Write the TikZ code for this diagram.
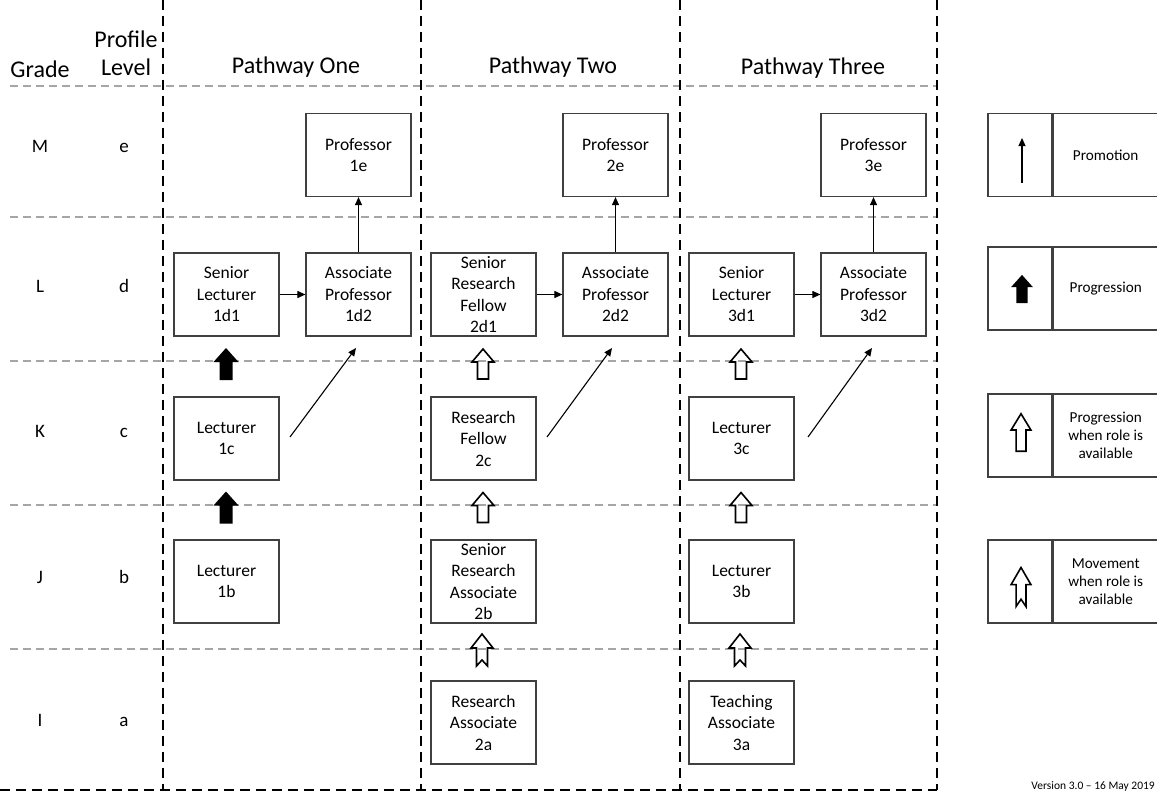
\documentclass[tikz,border=0pt]{standalone}
\usepackage{fontspec}
\setmainfont{Carlito}
\usetikzlibrary{arrows.meta}
\definecolor{boxline}{HTML}{404040}
\definecolor{gridgray}{HTML}{A6A6A6}
\tikzset{
  x=1pt, y=-1pt,
  rolebox/.style={draw=boxline, line width=1.2pt, minimum width=105pt, minimum height=83pt,
    text width=100pt, align=center, inner sep=0pt, font=\fontsize{17.5}{21.5}\selectfont},
  colsep/.style={line width=2.8pt, dash pattern=on 10pt off 6pt},
  rowsep/.style={gridgray, line width=1.4pt, dash pattern=on 8pt off 5pt},
  hdr/.style={font=\fontsize{24}{28}\selectfont, align=center, inner sep=0pt},
  rowlab/.style={font=\fontsize{19}{22}\selectfont, inner sep=0pt, anchor=base},
  promo/.style={line width=1.1pt, -{Triangle[length=8pt,width=7pt]}},
  legbox/.style={draw=boxline, line width=1.2pt, minimum height=83pt, inner sep=0pt},
  legtext/.style={font=\fontsize{15.2}{18}\selectfont, align=center, inner sep=0pt},
  filledprog/.pic={\fill[black] (0,-16) -- (12.5,-2) -- (6.5,-2) -- (6.5,16) -- (-6.5,16) -- (-6.5,-2) -- (-12.5,-2) -- cycle;},
  hollowprog/.pic={\draw[black, line width=1.6pt, line join=miter] (0,-15) -- (11,-2) -- (5.5,-2) -- (5.5,15) -- (-5.5,15) -- (-5.5,-2) -- (-11,-2) -- cycle;},
  moveprog/.pic={\draw[black, line width=1.6pt, line join=miter] (0,-16) -- (11,-2) -- (5.5,-2) -- (5.5,16) -- (0,10) -- (-5.5,16) -- (-5.5,-2) -- (-11,-2) -- cycle;}
}
\begin{document}
\begin{tikzpicture}
\useasboundingbox (0,0) rectangle (1157,792);

% grid
\foreach \yy in {86,217,361,505,649}{\draw[rowsep] (10,\yy) -- (937,\yy);}
\foreach \xx in {163,421,680,937}{\draw[colsep] (\xx,0) -- (\xx,790);}
\draw[colsep] (0,790) -- (937,790);

% headers
\node[hdr] (hgrade) at (40,69) {Grade};
\node[hdr] (hprof) at (126,53) {Profile\\Level};
\node[hdr] (hp1) at (296,67) {Pathway One};
\node[hdr] (hp2) at (553,67) {Pathway Two};
\node[hdr] (hp3) at (813,68) {Pathway Three};

% row labels
\node[rowlab] (gM) at (40,152) {M}; \node[rowlab] (pe) at (124,152) {e};
\node[rowlab] (gL) at (40,292) {L}; \node[rowlab] (pd) at (124,292) {d};
\node[rowlab] (gK) at (40,437) {K}; \node[rowlab] (pc) at (124,437) {c};
\node[rowlab] (gJ) at (40,583) {J}; \node[rowlab] (pb) at (124,583) {b};
\node[rowlab] (gI) at (40,726) {I}; \node[rowlab] (pa) at (124,726) {a};

% pathway one
\node[rolebox] (p1e) at (358.5,155) {Professor\\1e};
\node[rolebox] (p1d1) at (226.5,294.5) {Senior\\Lecturer\\1d1};
\node[rolebox] (p1d2) at (358.5,294.5) {Associate\\Professor\\1d2};
\node[rolebox] (p1c) at (226.5,438.5) {Lecturer\\1c};
\node[rolebox] (p1b) at (226.5,581.5) {Lecturer\\1b};

% pathway two
\node[rolebox] (p2e) at (615.5,155) {Professor\\2e};
\node[rolebox] (p2d1) at (483.5,294.5) {Senior\\Research\\Fellow\\2d1};
\node[rolebox] (p2d2) at (615.5,294.5) {Associate\\Professor\\2d2};
\node[rolebox] (p2c) at (483.5,438.5) {Research\\Fellow\\2c};
\node[rolebox] (p2b) at (483.5,581.5) {Senior\\Research\\Associate\\2b};
\node[rolebox] (p2a) at (483.5,722.5) {Research\\Associate\\2a};

% pathway three
\node[rolebox] (p3e) at (873.5,155) {Professor\\3e};
\node[rolebox] (p3d1) at (741.5,294.5) {Senior\\Lecturer\\3d1};
\node[rolebox] (p3d2) at (873.5,294.5) {Associate\\Professor\\3d2};
\node[rolebox] (p3c) at (741.5,438.5) {Lecturer\\3c};
\node[rolebox] (p3b) at (741.5,581.5) {Lecturer\\3b};
\node[rolebox] (p3a) at (741.5,722.5) {Teaching\\Associate\\3a};

% promotion arrows
\draw[promo] (p1d1) -- (p1d2);
\draw[promo] (p1d2) -- (p1e);
\draw[promo] (p2d1) -- (p2d2);
\draw[promo] (p2d2) -- (p2e);
\draw[promo] (p3d1) -- (p3d2);
\draw[promo] (p3d2) -- (p3e);

\coordinate (d1s) at (290,437); \coordinate (d1e) at (356,348);
\coordinate (d2s) at (547,437); \coordinate (d2e) at (612,348);
\coordinate (d3s) at (808,437); \coordinate (d3e) at (872,348);
\draw[promo] (d1s) -- (d1e);
\draw[promo] (d2s) -- (d2e);
\draw[promo] (d3s) -- (d3e);

% progression arrows
\pic at (226,364) {filledprog};
\pic at (226,507.5) {filledprog};
\pic at (483,364) {hollowprog};
\pic at (483,507.5) {hollowprog};
\pic at (741,364) {hollowprog};
\pic at (741,507.5) {hollowprog};
\pic at (482,650) {moveprog};
\pic at (740,650) {moveprog};

% legend
\node[legbox, minimum width=64pt] (l1a) at (1020,155) {};
\node[legbox, minimum width=105pt, anchor=west] (l1b) at (l1a.east) {};
\node[legtext] (l1t) at (l1b.center) {Promotion};
\coordinate (l1s) at (1022,183); \coordinate (l1e) at (1022,138);
\draw[promo] (l1s) -- (l1e);

\node[legbox, minimum width=64pt] (l2a) at (1020,288.5) {};
\node[legbox, minimum width=105pt, anchor=west] (l2b) at (l2a.east) {};
\node[legtext] (l2t) at (l2b.center) {Progression};
\pic[scale=0.88] at (1022,289) {filledprog};

\node[legbox, minimum width=64pt] (l3a) at (1020,435.5) {};
\node[legbox, minimum width=105pt, anchor=west] (l3b) at (l3a.east) {};
\node[legtext] (l3t) at (l3b.center) {Progression\\when role is\\available};
\pic[xscale=0.9, yscale=1.25] at (1021,432.5) {hollowprog};

\node[legbox, minimum width=64pt] (l4a) at (1020,581.5) {};
\node[legbox, minimum width=105pt, anchor=west] (l4b) at (l4a.east) {};
\node[legtext] (l4t) at (l4b.center) {Movement\\when role is\\available};
\pic[xscale=0.9, yscale=1.22] at (1021,587) {moveprog};

\node[font=\fontsize{11.5}{13}\selectfont, anchor=east, inner sep=0pt] (ver) at (1155,786) {Version 3.0 – 16 May 2019};
\end{tikzpicture}
\end{document}
